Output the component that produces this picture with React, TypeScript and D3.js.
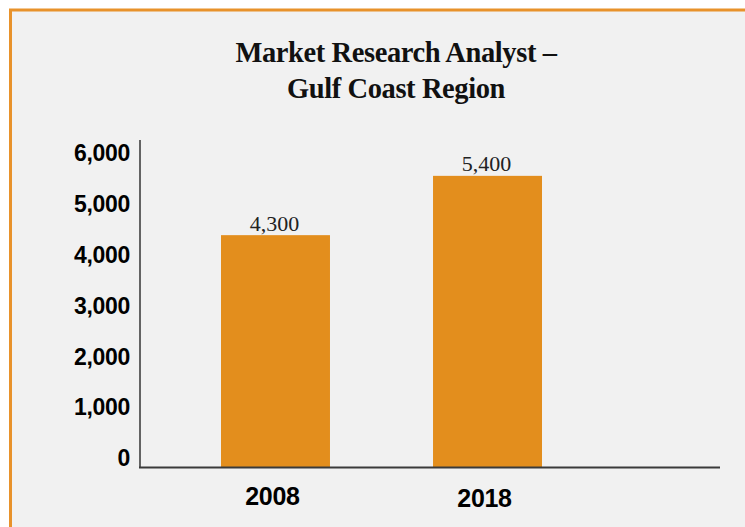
import React, { useEffect, useRef } from 'react';
import * as d3 from 'd3';

const years = ['2008', '2018'];
const jobs = [4300, 5400];
const yTicks = [0, 1000, 2000, 3000, 4000, 5000, 6000];
const titleLines = ['Market Research Analyst –', 'Gulf Coast Region'];

const W = 745;
const H = 527;
const ORANGE = '#e38e1d';

const App: React.FC = () => {
  const svgRef = useRef<SVGSVGElement>(null);

  useEffect(() => {
    if (!svgRef.current) return;
    const svg = d3.select(svgRef.current);
    svg.selectAll('*').remove();

    // panel background + orange frame (runs off the right and bottom edges)
    svg.append('rect').attr('width', W).attr('height', H).attr('fill', '#fff');
    svg.append('rect')
      .attr('x', 10.5).attr('y', 10)
      .attr('width', W + 20).attr('height', H + 20)
      .attr('fill', '#f1f1f1')
      .attr('stroke', '#e8922b')
      .attr('stroke-width', 3);

    // title
    svg.append('g')
      .selectAll('text')
      .data(titleLines)
      .enter()
      .append('text')
      .attr('x', 396)
      .attr('y', (d, i) => 62 + i * 36)
      .attr('text-anchor', 'middle')
      .style('font-family', '"Liberation Serif", "DejaVu Serif", serif')
      .style('font-weight', 'bold')
      .style('font-size', '28.5px')
      .style('letter-spacing', '-0.4px')
      .style('fill', '#111')
      .text(d => d);

    const x = d3.scaleBand<string>()
      .domain(years)
      .range([140, 623])
      .paddingInner(0.486)
      .paddingOuter(0.382);

    const y = d3.scaleLinear().domain([0, 6000]).range([467, 143.5]);
    // tick labels in the original sit slightly compressed against the bars
    const yLabel = d3.scaleLinear().domain([0, 6000]).range([458, 153]);

    const fmt = d3.format(',');

    // bars
    svg.append('g')
      .selectAll('rect')
      .data(jobs)
      .enter()
      .append('rect')
      .attr('x', (d, i) => x(years[i])!)
      .attr('y', d => y(d))
      .attr('width', x.bandwidth())
      .attr('height', d => y(0) - y(d))
      .attr('fill', ORANGE);

    // value labels
    svg.append('g')
      .selectAll('text')
      .data(jobs)
      .enter()
      .append('text')
      .attr('x', (d, i) => x(years[i])! + x.bandwidth() / 2 - 1)
      .attr('y', d => y(d) - 4.5)
      .attr('text-anchor', 'middle')
      .style('font-family', '"Liberation Serif", "DejaVu Serif", serif')
      .style('font-size', '22px')
      .style('fill', '#222')
      .text(d => fmt(d));

    // axes lines
    svg.append('line')
      .attr('x1', 140).attr('x2', 140)
      .attr('y1', 140).attr('y2', y(0))
      .attr('stroke', '#333').attr('stroke-width', 1.5);
    svg.append('line')
      .attr('x1', 139).attr('x2', 720)
      .attr('y1', y(0) + 0.5).attr('y2', y(0) + 0.5)
      .attr('stroke', '#3a3a3a').attr('stroke-width', 2);

    // y tick labels
    svg.append('g')
      .selectAll('text')
      .data(yTicks)
      .enter()
      .append('text')
      .attr('x', 130)
      .attr('y', d => yLabel(d))
      .attr('dy', '0.36em')
      .attr('text-anchor', 'end')
      .style('font-family', '"Liberation Sans", Arial, sans-serif')
      .style('font-weight', 'bold')
      .style('font-size', '23px')
      .style('letter-spacing', '-0.3px')
      .style('fill', '#000')
      .text(d => fmt(d));

    // x labels
    svg.append('g')
      .selectAll('text')
      .data(years)
      .enter()
      .append('text')
      .attr('x', d => x(d)! + x.bandwidth() / 2 - 3)
      .attr('y', (d, i) => 505 + i * 2)
      .attr('text-anchor', 'middle')
      .style('font-family', '"Liberation Sans", Arial, sans-serif')
      .style('font-weight', 'bold')
      .style('font-size', '25px')
      .style('letter-spacing', '-0.3px')
      .style('fill', '#000')
      .text(d => d);
  }, []);

  return (
    <svg
      ref={svgRef}
      width={W}
      height={H}
      style={{ position: 'absolute', top: 0, left: 0, display: 'block' }}
    />
  );
};

export default App;
